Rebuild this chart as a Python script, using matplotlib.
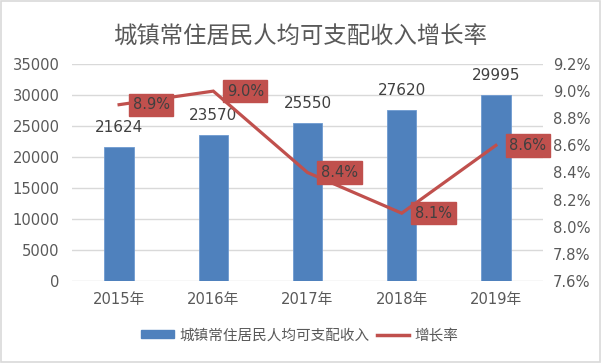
import matplotlib
matplotlib.use('Agg')
import matplotlib.pyplot as plt
from matplotlib.patches import Rectangle, Patch
from matplotlib.lines import Line2D
from matplotlib.ticker import FuncFormatter

plt.rcParams['font.family'] = ['DejaVu Sans', 'Noto Sans CJK SC']

# data
years = ['2015年', '2016年', '2017年', '2018年', '2019年']
income = [21624, 23570, 25550, 27620, 29995]
growth = [8.9, 9.0, 8.4, 8.1, 8.6]
growth_labels = ['8.9%', '9.0%', '8.4%', '8.1%', '8.6%']

title = '城镇常住居民人均可支配收入增长率'
bar_name = '城镇常住居民人均可支配收入'
line_name = '增长率'

blue = '#4F81BD'
red = '#C0504D'
grid_c = '#D9D9D9'
txt_c = '#595959'

fig = plt.figure(figsize=(6.02, 3.63), dpi=100)
W, H = 602, 363
ax = fig.add_axes([72 / W, (H - 281) / H, (543 - 72) / W, (281 - 64) / H])

x = range(len(years))
ax.bar(x, income, width=0.31, color=blue, edgecolor='#6E9AD0', linewidth=0.6, zorder=2)
ax.set_xlim(-0.5, len(years) - 0.5)
ax.set_ylim(0, 35000)
ax.set_yticks(range(0, 35001, 5000))
ax.set_xticks(list(x))
ax.set_xticklabels(years)
ax.grid(axis='y', color=grid_c, linewidth=1, zorder=0)
ax.set_axisbelow(True)
for s in ax.spines.values():
    s.set_visible(False)
ax.tick_params(axis='both', length=0, labelsize=10.6, colors=txt_c)
ax.tick_params(axis='y', pad=9)
ax.tick_params(axis='x', pad=8)

for xi, v in zip(x, income):
    ax.annotate(str(v), (xi, v), xytext=(0, 14), textcoords='offset points',
                ha='center', va='center', fontsize=11, color='#404040')

ax2 = ax.twinx()
ax2.set_ylim(7.6, 9.2)
ax2.set_yticks([7.6 + 0.2 * i for i in range(9)])
ax2.yaxis.set_major_formatter(FuncFormatter(lambda v, p: '%.1f%%' % v))
for s in ax2.spines.values():
    s.set_visible(False)
ax2.tick_params(axis='y', length=0, labelsize=10.6, colors=txt_c, pad=7)
ax2.plot(list(x), growth, color=red, linewidth=2.3, solid_joinstyle='miter', zorder=3)

for xi, v, lab in zip(x, growth, growth_labels):
    ax2.annotate(lab, (xi, v), xytext=(23, 0), textcoords='offset points',
                 ha='center', va='center', fontsize=10.5, color='#404040',
                 bbox=dict(boxstyle='square,pad=0.25', fc=red, ec=red), zorder=4)

fig.text(300 / W, 1 - 37 / H, title, ha='center', va='center',
         fontsize=16.8, color=txt_c)

handles = [Patch(facecolor=blue, edgecolor=blue),
           Line2D([0], [0], color=red, linewidth=2.5)]
fig.legend(handles, [bar_name, line_name], loc='center',
           bbox_to_anchor=(300 / W, 1 - 335 / H), ncol=2, frameon=False,
           fontsize=10.5, labelcolor=txt_c, handlelength=2.2, handleheight=0.5,
           handletextpad=0.4, columnspacing=0.5)

fig.patches.append(Rectangle((0.002, 0.003), 0.995, 0.994, transform=fig.transFigure,
                             fill=False, edgecolor=grid_c, linewidth=1.2))

fig.savefig('out.png', dpi=100)
